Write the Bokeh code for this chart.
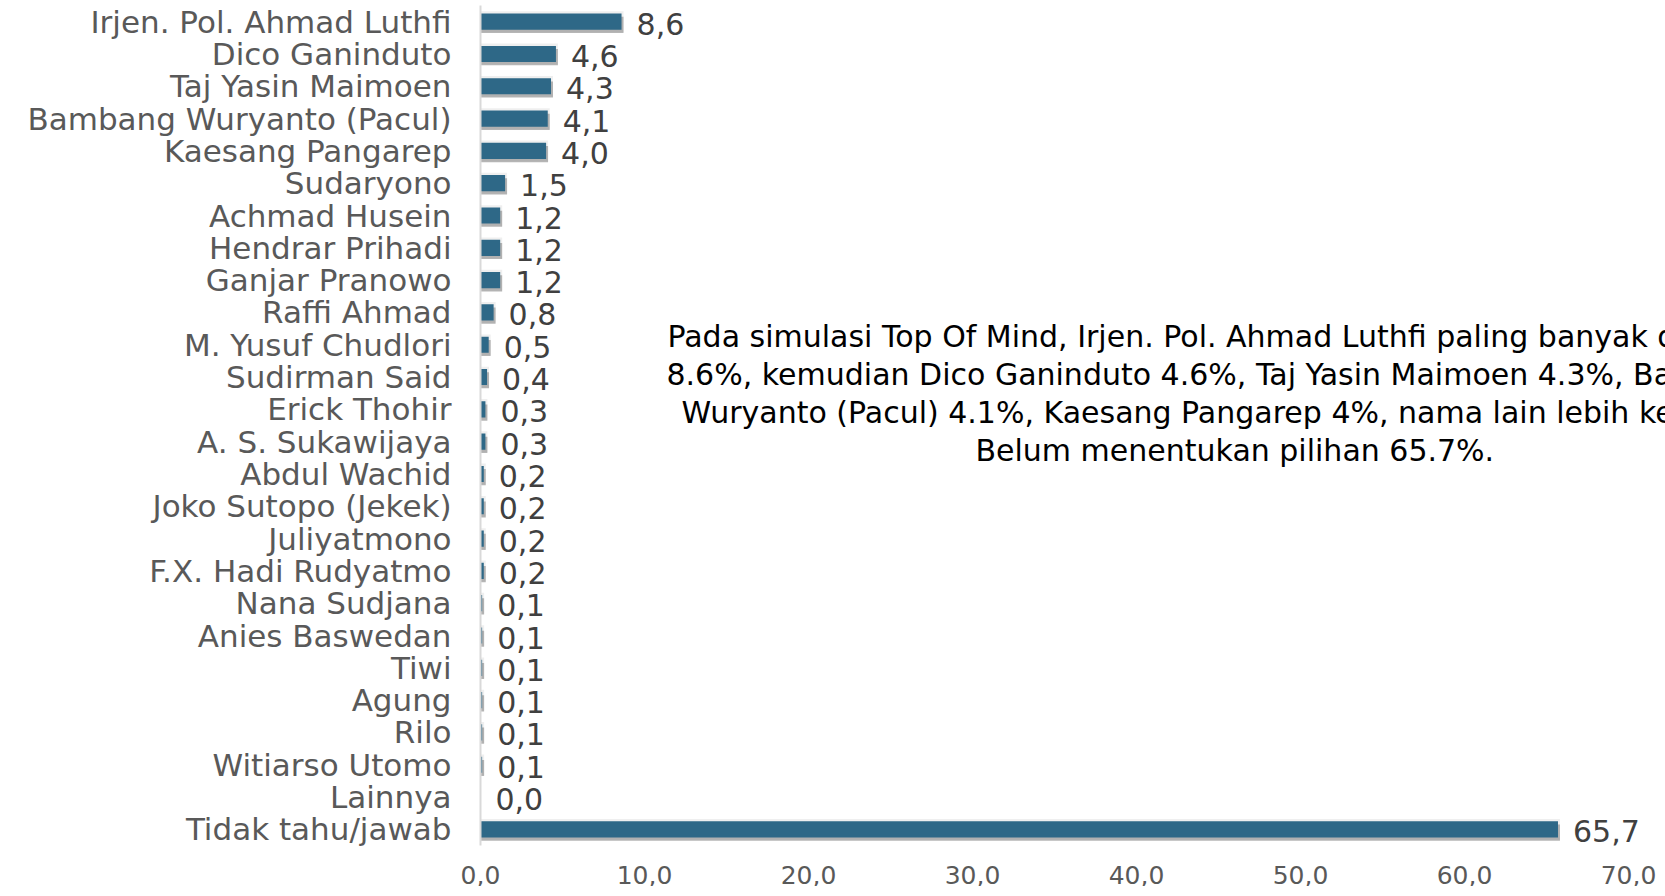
from bokeh.plotting import figure
from bokeh.models import FactorRange, Range1d, FixedTicker, ColumnDataSource, Label
from bokeh.transform import dodge
from bokeh.core.properties import value
from bokeh.embed import file_html
from bokeh.resources import INLINE

categories = ["Irjen. Pol. Ahmad Luthfi", "Dico Ganinduto", "Taj Yasin Maimoen",
              "Bambang Wuryanto (Pacul)", "Kaesang Pangarep", "Sudaryono",
              "Achmad Husein", "Hendrar Prihadi", "Ganjar Pranowo", "Raffi Ahmad",
              "M. Yusuf Chudlori", "Sudirman Said", "Erick Thohir", "A. S. Sukawijaya",
              "Abdul Wachid", "Joko Sutopo (Jekek)", "Juliyatmono", "F.X. Hadi Rudyatmo",
              "Nana Sudjana", "Anies Baswedan", "Tiwi", "Agung", "Rilo",
              "Witiarso Utomo", "Lainnya", "Tidak tahu/jawab"]
values = [8.6, 4.6, 4.3, 4.1, 4.0, 1.5, 1.2, 1.2, 1.2, 0.8, 0.5, 0.4, 0.3, 0.3,
          0.2, 0.2, 0.2, 0.2, 0.1, 0.1, 0.1, 0.1, 0.1, 0.1, 0.0, 65.7]
x_ticks = [0, 10, 20, 30, 40, 50, 60, 70]
x_tick_labels = ["0,0", "10,0", "20,0", "30,0", "40,0", "50,0", "60,0", "70,0"]
note_lines = [
    "Pada simulasi Top Of Mind, Irjen. Pol. Ahmad Luthfi paling banyak dipilih",
    "8.6%, kemudian Dico Ganinduto 4.6%, Taj Yasin Maimoen 4.3%, Bambang",
    "Wuryanto (Pacul) 4.1%, Kaesang Pangarep 4%, nama lain lebih kecil.",
    "Belum menentukan pilihan 65.7%.",
]
# left edge (data units) of each annotation line
note_x = [11.40, 11.34, 12.26, 30.18]

FONT = "DejaVu Sans"
BAR = "#2E6887"

labels = [f"{v:.1f}".replace(".", ",") for v in values]
shadow_right = [v + 0.12 if v > 0 else 0 for v in values]
src = ColumnDataSource(dict(cat=categories, val=values, lab=labels, sh=shadow_right))

FW = 1185
p = figure(
    y_range=FactorRange(factors=categories[::-1], range_padding=0),
    x_range=Range1d(0, 70 * FW / 1148),
    frame_width=FW, frame_height=840,
    min_border_left=480, min_border_right=0, min_border_top=5, min_border_bottom=0,
    output_backend="svg", toolbar_location=None,
)
p.outline_line_color = None
p.xgrid.visible = False
p.ygrid.visible = False
p.background_fill_color = "white"
p.border_fill_color = "white"

# soft halo, shadow and bars
p.hbar(y="cat", right="sh", left=0, height=0.64, source=src,
       fill_color="#D0D0D0", line_color=None, fill_alpha=0.35)
p.hbar(y=dodge("cat", -0.1, range=p.y_range), right="sh", left=0, height=0.5,
       source=src, fill_color="#8F8F8F", line_color=None, fill_alpha=0.65)
p.hbar(y="cat", right="val", left=0, height=0.5, source=src,
       fill_color=BAR, line_color=None)

# value labels
p.text(x="val", y="cat", text="lab", source=src, x_offset=15, y_offset=2,
       text_align="left", text_baseline="middle", text_font=value(FONT),
       text_font_size="30px", text_color="#404040")

# y axis
ya = p.yaxis[0]
ya.axis_line_color = "#D9D9D9"
ya.axis_line_width = 2
ya.major_tick_line_color = None
ya.minor_tick_line_color = None
ya.major_tick_out = 0
ya.major_label_standoff = 29
ya.major_label_text_font = FONT
ya.major_label_text_font_size = "31px"
ya.major_label_text_color = "#595959"

# x axis
xa = p.xaxis[0]
xa.ticker = FixedTicker(ticks=x_ticks)
xa.major_label_overrides = {t: s for t, s in zip(x_ticks, x_tick_labels)}
xa.axis_line_color = None
xa.major_tick_line_color = None
xa.minor_tick_line_color = None
xa.major_tick_out = 0
xa.major_label_standoff = 20
xa.major_label_text_font = FONT
xa.major_label_text_font_size = "25px"
xa.major_label_text_color = "#595959"

# annotation text
for i, (line, x0) in enumerate(zip(note_lines, note_x)):
    p.add_layout(Label(x=x0, y=15.755 - i * 1.176, x_units="data", y_units="data",
                       text=line, text_align="left", text_baseline="middle",
                       text_font=FONT, text_font_size="30px", text_color="black"))

open("out.html", "w").write(file_html(p, INLINE))
